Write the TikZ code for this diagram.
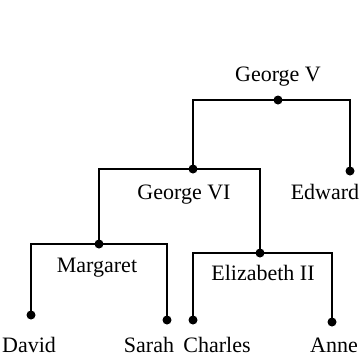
\documentclass[tikz,border=0pt]{standalone}
\usepackage{fontspec}
\setmainfont{Liberation Serif}
\begin{document}
\begin{tikzpicture}[x=1pt,y=-1pt,
  dotnode/.style={circle,fill=black,inner sep=0pt,minimum size=9pt},
  bar/.style={line width=2.3pt,line join=miter},
  lbl/.style={anchor=base,inner sep=0pt,font=\fontsize{22}{26}\selectfont}]
\useasboundingbox (0,0) rectangle (359,357);
% dots
\node[dotnode] (gv)  at (278,100) {};
\node[dotnode] (gvi) at (193,169) {};
\node[dotnode] (ed)  at (350,171) {};
\node[dotnode] (mg)  at (99,244) {};
\node[dotnode] (el)  at (260,253) {};
\node[dotnode] (dv)  at (31,315) {};
\node[dotnode] (sa)  at (167,320) {};
\node[dotnode] (ch)  at (193,320) {};
\node[dotnode] (an)  at (332,322) {};
% connectors
\draw[bar] (gvi.center) |- (gv.center) -| (ed.center);
\draw[bar] (mg.center) |- (gvi.center) -| (el.center);
\draw[bar] (dv.center) |- (mg.center) -| (sa.center);
\draw[bar] (ch.center) |- (el.center) -| (an.center);
% labels
\node[lbl] (tgv)  at (278,81)  {George V};
\node[lbl] (tgvi) at (184,199) {George VI};
\node[lbl] (ted)  at (325,199) {Edward};
\node[lbl] (tmg)  at (97,272)  {Margaret};
\node[lbl] (tel)  at (263,280) {Elizabeth II};
\node[lbl] (tdv)  at (29,352)  {David};
\node[lbl] (tsa)  at (149,352) {Sarah};
\node[lbl] (tch)  at (217,352) {Charles};
\node[lbl] (tan)  at (334,352) {Anne};
\end{tikzpicture}
\end{document}
